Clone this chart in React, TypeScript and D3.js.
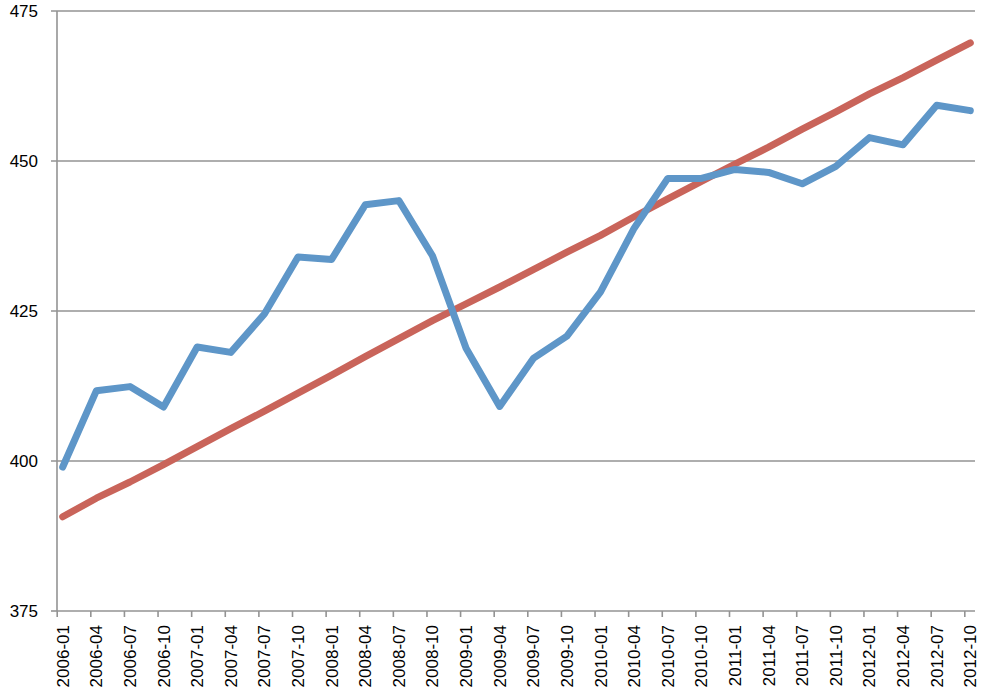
import React from "react";
import * as d3 from "d3";

const categories = [
  "2006-01","2006-04","2006-07","2006-10",
  "2007-01","2007-04","2007-07","2007-10",
  "2008-01","2008-04","2008-07","2008-10",
  "2009-01","2009-04","2009-07","2009-10",
  "2010-01","2010-04","2010-07","2010-10",
  "2011-01","2011-04","2011-07","2011-10",
  "2012-01","2012-04","2012-07","2012-10",
];

const blueSeries = [
  399.0, 411.7, 412.4, 409.0,
  419.0, 418.1, 424.5, 434.0,
  433.6, 442.7, 443.4, 434.2,
  418.8, 409.1, 417.1, 420.8,
  428.2, 438.8, 447.1, 447.1,
  448.6, 448.1, 446.2, 449.1,
  453.9, 452.7, 459.3, 458.4,
];

const redSeries = [
  390.7, 393.8, 396.5, 399.4,
  402.4, 405.4, 408.3, 411.3,
  414.3, 417.4, 420.4, 423.4,
  426.2, 429.0, 431.9, 434.8,
  437.6, 440.7, 443.7, 446.6,
  449.5, 452.3, 455.3, 458.2,
  461.2, 463.9, 466.8, 469.7,
];

const yTicks = [375, 400, 425, 450, 475];

export default function App() {
  const width = 1000;
  const height = 700;
  const axisLeft = 57;
  const axisRight = 975;
  const top = 11;
  const bottom = 611;

  const x = d3.scalePoint<string>().domain(categories).range([62.7, 970.3]);
  const y = d3.scaleLinear().domain([375, 475]).range([bottom, top]);

  const line = d3
    .line<number>()
    .x((_, i) => x(categories[i]) as number)
    .y((d) => y(d));

  const grey = "#939393";
  const font = "'Liberation Sans', Arial, sans-serif";

  return (
    <svg
      width={width}
      height={height}
      style={{ position: "absolute", left: 0, top: 0, background: "#fff" }}
    >
      {yTicks.map((t) => (
        <g key={t}>
          {t !== 375 && (
            <line x1={51} x2={axisRight} y1={y(t)} y2={y(t)} stroke={grey} strokeWidth={1.6} />
          )}
          {t === 375 && (
            <line x1={51} x2={axisLeft} y1={y(t)} y2={y(t)} stroke={grey} strokeWidth={1.6} />
          )}
          <text
            x={38}
            y={y(t)}
            dy="0.36em"
            textAnchor="end"
            fontFamily={font}
            fontSize={17}
            fill="#000"
          >
            {t}
          </text>
        </g>
      ))}
      <line x1={axisLeft} x2={axisLeft} y1={top} y2={bottom} stroke={grey} strokeWidth={1.6} />
      <line x1={axisLeft} x2={axisRight} y1={bottom} y2={bottom} stroke={grey} strokeWidth={1.6} />
      {categories.map((c) => {
        const cx = x(c) as number;
        return (
          <g key={c}>
            <line x1={cx - 5.5} x2={cx - 5.5} y1={bottom} y2={bottom + 6} stroke={grey} strokeWidth={1.6} />
            <text
              transform={`translate(${cx + 6},${625}) rotate(-90)`}
              textAnchor="end"
              fontFamily={font}
              fontSize={17}
              fill="#000"
            >
              {c}
            </text>
          </g>
        );
      })}
      <path
        d={line(redSeries) || ""}
        fill="none"
        stroke="#C9645A"
        strokeWidth={7}
        strokeLinejoin="round"
        strokeLinecap="round"
      />
      <path
        d={line(blueSeries) || ""}
        fill="none"
        stroke="#5E96C8"
        strokeWidth={7}
        strokeLinejoin="round"
        strokeLinecap="round"
      />
    </svg>
  );
}
